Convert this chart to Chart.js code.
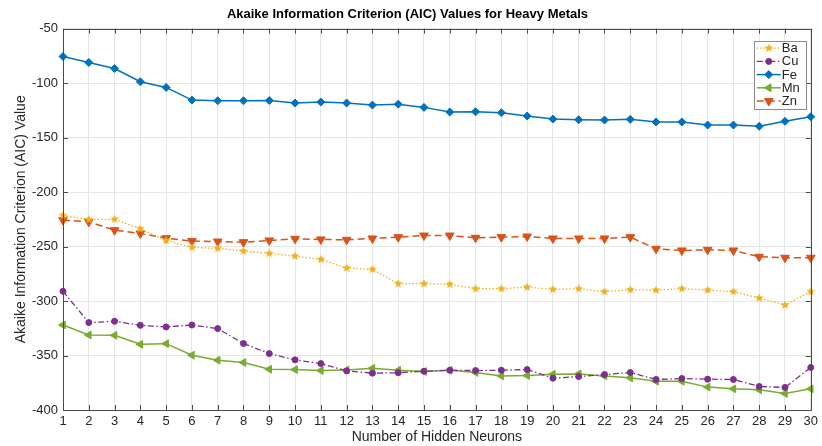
<!DOCTYPE html>
<html>
<head>
<meta charset="utf-8">
<script src="https://cdn.jsdelivr.net/npm/chart.js@4/dist/chart.umd.min.js"></script>
<style>
  html, body { margin: 0; padding: 0; background: #fff; }
  #wrap { width: 822px; height: 446px; }
</style>
</head>
<body>
<div id="wrap"><canvas id="aic-chart" width="822" height="446"></canvas></div>
<script>
// number of hidden neurons (x axis)
let neurons = []
for (let n = 1; n <= 30; n++) neurons.push(n)

// AIC values
let ba = [-221.5, -225.2, -225.0, -233.7, -244.4, -250.8, -251.7, -254.2, -256.3, -258.8,
          -261.8, -269.8, -271.0, -284.1, -284.1, -284.7, -288.7, -288.7, -287.2, -289.3,
          -288.7, -291.4, -289.6, -290.0, -288.7, -290.0, -291.4, -297.3, -303.7, -291.4]
let cu = [-291.1, -319.8, -318.6, -322.3, -323.8, -322.0, -325.3, -339.0, -348.2, -354.0,
          -357.4, -364.1, -366.2, -365.8, -364.4, -363.5, -363.8, -363.5, -362.9, -370.8,
          -369.3, -367.5, -365.6, -372.0, -371.1, -371.7, -372.0, -378.4, -379.3, -361.0]
let fe = [-75.6, -81.1, -86.6, -98.8, -104.0, -115.6, -116.2, -116.2, -116.0, -118.3,
          -117.4, -118.3, -120.2, -119.4, -122.3, -126.6, -126.3, -127.2, -130.2, -133.0,
          -133.6, -133.9, -133.3, -135.7, -135.7, -138.5, -138.5, -139.7, -135.1, -130.9]
let mn = [-322.0, -331.2, -331.5, -339.7, -339.1, -349.7, -354.3, -356.4, -362.6, -362.9,
          -363.8, -363.2, -361.7, -363.5, -364.7, -363.5, -365.6, -368.7, -368.4, -367.2,
          -366.9, -368.7, -370.5, -373.6, -373.6, -379.0, -380.6, -381.5, -384.9, -380.6]
let zn = [-225.8, -227.3, -235.0, -238.0, -242.3, -245.0, -245.4, -246.0, -244.4, -242.9,
          -243.5, -243.8, -242.6, -241.4, -239.9, -239.9, -242.0, -241.4, -240.8, -242.6,
          -242.6, -242.6, -241.4, -252.1, -253.6, -253.0, -253.6, -259.4, -260.3, -260.3]

let seriesNames = ['Ba', 'Cu', 'Fe', 'Mn', 'Zn']
let yTicks = [-400, -350, -300, -250, -200, -150, -100, -50]

// matlab default colours
let colors = {
    Ba: '#EDB120',
    Cu: '#7E2F8E',
    Fe: '#0072BD',
    Mn: '#77AC30',
    Zn: '#D95319'
}

// filled pentagram marker for Ba (chart.js star is stroke only)
function makeStar(color, r) {
    let c = document.createElement('canvas')
    c.width = Math.ceil(r * 2 + 2)
    c.height = Math.ceil(r * 2 + 2)
    let g = c.getContext('2d')
    let cx = c.width / 2, cy = c.height / 2
    g.beginPath()
    for (let i = 0; i < 10; i++) {
        let rad = i % 2 === 0 ? r : r * 0.45
        let a = -Math.PI / 2 + i * Math.PI / 5
        let px = cx + rad * Math.cos(a), py = cy + rad * Math.sin(a)
        if (i === 0) g.moveTo(px, py)
        else g.lineTo(px, py)
    }
    g.closePath()
    g.fillStyle = color
    g.fill()
    return c
}

let starMarker = makeStar(colors.Ba, 4.6)

let datasets = [
    {label: seriesNames[0], data: ba, borderColor: colors.Ba, borderWidth: 1.3,
     borderDash: [1.5, 2], pointStyle: starMarker, pointRadius: 4, pointRotation: 0},
    {label: seriesNames[1], data: cu, borderColor: colors.Cu, borderWidth: 1.3,
     borderDash: [6, 2.5, 1.5, 2.5], pointStyle: 'circle', pointRadius: 3, pointRotation: 0},
    {label: seriesNames[2], data: fe, borderColor: colors.Fe, borderWidth: 1.5,
     borderDash: [], pointStyle: 'rectRot', pointRadius: 4, pointRotation: 0},
    {label: seriesNames[3], data: mn, borderColor: colors.Mn, borderWidth: 1.5,
     borderDash: [], pointStyle: 'triangle', pointRadius: 4.5, pointRotation: 270},
    {label: seriesNames[4], data: zn, borderColor: colors.Zn, borderWidth: 1.5,
     borderDash: [7, 4], pointStyle: 'triangle', pointRadius: 5, pointRotation: 180}
]

datasets.forEach(function (d) {
    d.backgroundColor = d.borderColor
    d.pointBackgroundColor = d.borderColor
    d.pointBorderColor = d.borderColor
    d.pointBorderWidth = 1
    d.pointHoverRadius = d.pointRadius
    d.tension = 0
    d.fill = false
    d.clip = false
})

let axisColor = '#4a4a4a'

// box around the plot with inward ticks, like matlab "box on"
let boxPlugin = {
    id: 'boxPlugin',
    afterDraw(chart) {
        let ctx = chart.ctx
        let a = chart.chartArea
        let xs = chart.scales.x, ys = chart.scales.y
        let len = 5
        ctx.save()
        ctx.strokeStyle = axisColor
        ctx.lineWidth = 1
        ctx.beginPath()
        ctx.rect(Math.round(a.left) + 0.5, Math.round(a.top) + 0.5,
                 Math.round(a.right - a.left), Math.round(a.bottom - a.top))
        ctx.stroke()
        ctx.beginPath()
        for (let i = 0; i < xs.ticks.length; i++) {
            let px = Math.round(xs.getPixelForTick(i)) + 0.5
            ctx.moveTo(px, a.bottom); ctx.lineTo(px, a.bottom - len)
            ctx.moveTo(px, a.top); ctx.lineTo(px, a.top + len)
        }
        for (let i = 0; i < ys.ticks.length; i++) {
            let py = Math.round(ys.getPixelForTick(i)) + 0.5
            ctx.moveTo(a.left, py); ctx.lineTo(a.left + len, py)
            ctx.moveTo(a.right, py); ctx.lineTo(a.right - len, py)
        }
        ctx.stroke()
        ctx.restore()
    }
}

// legend drawn inside the plot, top right
let insideLegend = {
    id: 'insideLegend',
    afterDraw(chart) {
        let ctx = chart.ctx
        let a = chart.chartArea
        let sets = chart.data.datasets
        let w = 52, rowH = 13.2
        let h = sets.length * rowH + 2
        let left = a.right - 5 - w
        let top = a.top + 12
        ctx.save()
        ctx.fillStyle = '#ffffff'
        ctx.fillRect(left, top, w, h)
        ctx.strokeStyle = '#8c8c8c'
        ctx.lineWidth = 1
        ctx.strokeRect(Math.round(left) + 0.5, Math.round(top) + 0.5, w, h)
        ctx.font = '13px "Liberation Sans", Arial, sans-serif'
        ctx.textBaseline = 'middle'
        sets.forEach(function (d, i) {
            let y = top + 7.6 + i * rowH
            ctx.save()
            ctx.strokeStyle = d.borderColor
            ctx.lineWidth = d.borderWidth
            ctx.setLineDash(d.borderDash)
            ctx.beginPath()
            ctx.moveTo(left + 3, y)
            ctx.lineTo(left + 27, y)
            ctx.stroke()
            ctx.restore()
            ctx.fillStyle = d.borderColor
            ctx.strokeStyle = d.borderColor
            ctx.lineWidth = 1
            Chart.helpers.drawPoint(ctx, {
                pointStyle: d.pointStyle,
                rotation: d.pointRotation,
                radius: d.pointRadius,
                borderWidth: 1
            }, left + 15, y)
            ctx.fillStyle = '#262626'
            ctx.fillText(d.label, left + 28, y + 0.5)
        })
        ctx.restore()
    }
}

let canvas = document.querySelector('#aic-chart')
let ctx = canvas.getContext('2d')

let chart = new Chart(ctx, {
    type: 'line',
    data: {
        labels: neurons,
        datasets: datasets
    },
    options: {
        responsive: false,
        animation: false,
        events: [],
        layout: {
            padding: {left: 0, right: 7, top: 0, bottom: 0}
        },
        plugins: {
            legend: {display: false},
            tooltip: {enabled: false},
            title: {
                display: true,
                text: 'Akaike Information Criterion (AIC) Values for Heavy Metals',
                color: '#000000',
                font: {family: '"Liberation Sans", Arial, sans-serif', size: 13, weight: 'bold'},
                padding: {top: 7, bottom: 6}
            }
        },
        scales: {
            x: {
                type: 'category',
                offset: false,
                afterFit(scale) { scale.height = 36 },
                grid: {color: '#e6e6e6', lineWidth: 1, drawTicks: false},
                border: {display: false},
                ticks: {
                    color: '#262626',
                    padding: 4,
                    maxRotation: 0,
                    autoSkip: false,
                    font: {family: '"Liberation Sans", Arial, sans-serif', size: 13}
                },
                title: {
                    display: true,
                    text: 'Number of Hidden Neurons',
                    color: '#262626',
                    font: {family: '"Liberation Sans", Arial, sans-serif', size: 14},
                    padding: {top: 0, bottom: 0}
                }
            },
            y: {
                min: -400,
                max: -50,
                afterFit(scale) { scale.width = 63 },
                afterBuildTicks(scale) {
                    scale.ticks = yTicks.map(function (v) { return {value: v} })
                },
                grid: {color: '#e6e6e6', lineWidth: 1, drawTicks: false},
                border: {display: false},
                ticks: {
                    color: '#262626',
                    padding: 5,
                    font: {family: '"Liberation Sans", Arial, sans-serif', size: 13}
                },
                title: {
                    display: true,
                    text: 'Akaike Information Criterion (AIC) Value',
                    color: '#262626',
                    font: {family: '"Liberation Sans", Arial, sans-serif', size: 14},
                    padding: {top: 13, bottom: 0}
                }
            }
        }
    },
    plugins: [boxPlugin, insideLegend]
})
</script>
</body>
</html>
